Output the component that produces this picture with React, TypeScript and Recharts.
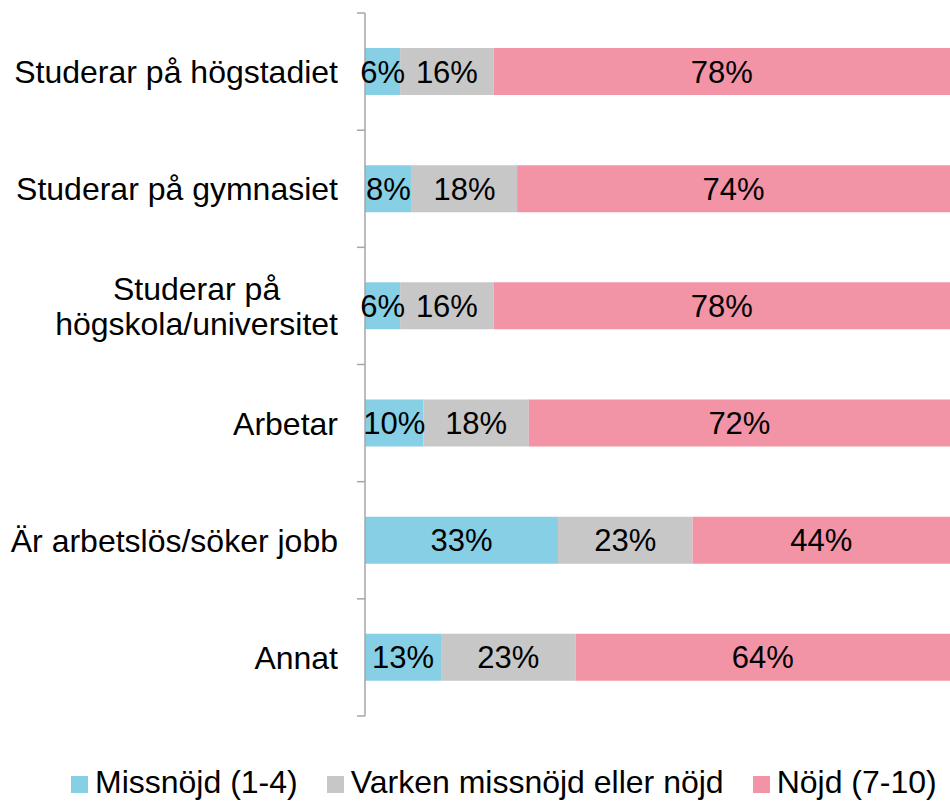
import React from "react";
import { BarChart, Bar, XAxis, YAxis, LabelList } from "recharts";

const categories = [
  "Studerar på högstadiet",
  "Studerar på gymnasiet",
  "Studerar på\nhögskola/universitet",
  "Arbetar",
  "Är arbetslös/söker jobb",
  "Annat",
];
const missnojd = [6, 8, 6, 10, 33, 13];
const varken = [16, 18, 16, 18, 23, 23];
const nojd = [78, 74, 78, 72, 44, 64];

const seriesNames = ["Missnöjd (1-4)", "Varken missnöjd eller nöjd", "Nöjd (7-10)"];
const seriesColors = ["#87cfe5", "#c7c7c7", "#f393a6"];

const data = categories.map((name, i) => ({
  name,
  missnojd: missnojd[i],
  varken: varken[i],
  nojd: nojd[i],
}));

const W = 950;
const H = 802;
const AXIS_W = 365;
const TOP = 13;
const BOTTOM = 86;
const FONT = "'Liberation Sans', Arial, sans-serif";
const AXIS_COLOR = "#a6a6a6";
const CAT_SIZE = 32;

const measure = (text: string, size: number) => {
  const c = document.createElement("canvas").getContext("2d");
  if (!c) return text.length * size * 0.5;
  c.font = `${size}px ${FONT}`;
  return c.measureText(text).width;
};

const CategoryTick = (props: any) => {
  const { x, y, payload, index } = props;
  const band = (H - TOP - BOTTOM) / categories.length;
  const lines = String(payload.value).split("\n");
  const maxW = Math.max(...lines.map((l) => measure(l, CAT_SIZE)));
  const lineH = 35;
  return (
    <g>
      <line x1={AXIS_W - 8} x2={AXIS_W} y1={y - band / 2} y2={y - band / 2} stroke={AXIS_COLOR} strokeWidth={1.5} />
      {index === categories.length - 1 && (
        <line x1={AXIS_W - 8} x2={AXIS_W} y1={y + band / 2} y2={y + band / 2} stroke={AXIS_COLOR} strokeWidth={1.5} />
      )}
      {lines.length === 1 ? (
        <text x={x} y={y} dy="0.36em" textAnchor="end" fontSize={CAT_SIZE} fontFamily={FONT} fill="#000">
          {lines[0]}
        </text>
      ) : (
        lines.map((l, k) => (
          <text
            key={k}
            x={x - maxW / 2}
            y={y + (k - (lines.length - 1) / 2) * lineH}
            dy="0.36em"
            textAnchor="middle"
            fontSize={CAT_SIZE}
            fontFamily={FONT}
            fill="#000"
          >
            {l}
          </text>
        ))
      )}
    </g>
  );
};

const keys = ["missnojd", "varken", "nojd"];

export default function App() {
  return (
    <div style={{ position: "absolute", left: 0, top: 0, width: W, height: H, background: "#fff", overflow: "hidden" }}>
      <BarChart
        width={W}
        height={H}
        data={data}
        layout="vertical"
        margin={{ top: TOP, right: 0, bottom: BOTTOM, left: 0 }}
      >
        <XAxis type="number" domain={[0, 100]} hide />
        <YAxis
          type="category"
          dataKey="name"
          width={AXIS_W}
          tickLine={false}
          tickSize={8}
          tickMargin={19}
          axisLine={{ stroke: AXIS_COLOR, strokeWidth: 1.5 }}
          tick={<CategoryTick />}
          interval={0}
        />
        {keys.map((k, i) => (
          <Bar key={k} dataKey={k} stackId="a" fill={seriesColors[i]} barSize={47} isAnimationActive={false}>
            <LabelList
              dataKey={k}
              position="center"
              formatter={(v: any) => `${v}%`}
              fill="#000"
              fontSize={31}
              fontFamily={FONT}
            />
          </Bar>
        ))}
      </BarChart>
      <div
        style={{
          position: "absolute",
          left: 71,
          top: 764,
          display: "flex",
          alignItems: "center",
          gap: 29,
          fontFamily: FONT,
          fontSize: 32,
          lineHeight: "36px",
          whiteSpace: "nowrap",
        }}
      >
        {seriesNames.map((n, i) => (
          <div key={n} style={{ display: "flex", alignItems: "center" }}>
            <span style={{ width: 17, height: 17, background: seriesColors[i], marginRight: 7, marginTop: 4, display: "inline-block" }} />
            <span>{n}</span>
          </div>
        ))}
      </div>
    </div>
  );
}
